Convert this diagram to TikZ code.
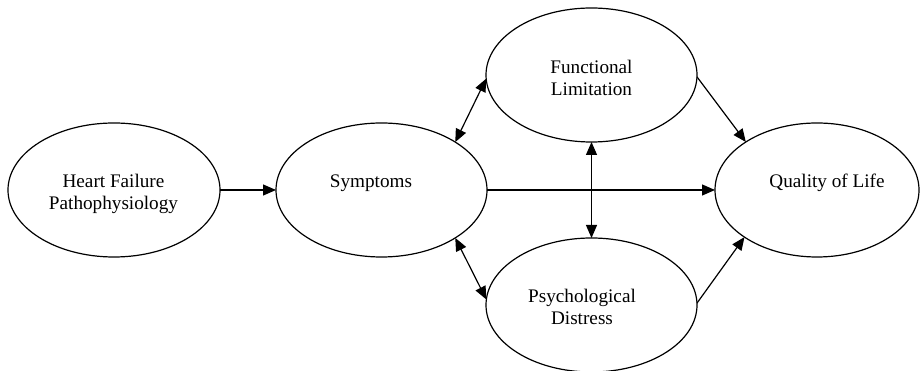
\documentclass[tikz,border=0pt]{standalone}
\usepackage{fontspec}
\setmainfont{Liberation Serif}
\usetikzlibrary{arrows.meta,shapes.geometric}
\begin{document}
\begin{tikzpicture}[x=1pt,y=1pt,
  oval/.style={draw=black, line width=1.2pt, ellipse, inner sep=0pt, outer sep=0pt},
  lbl/.style={inner sep=0pt, align=center, font=\fontsize{19.2}{22}\selectfont},
  tip/.style={Triangle[length=13pt,width=11pt]},
  conn/.style={line width=1.2pt, -{Triangle[length=13pt,width=11pt]}},
  dconn/.style={line width=1.2pt, {Triangle[length=13pt,width=11pt]}-{Triangle[length=13pt,width=11pt]}}]
\useasboundingbox (0,0) rectangle (920,371);
\node[oval, minimum width=212pt, minimum height=134pt] (hf) at (114,181) {};
\node[oval, minimum width=211pt, minimum height=134pt] (s) at (381.5,181) {};
\node[oval, minimum width=211pt, minimum height=134pt] (fl) at (591.5,296) {};
\node[oval, minimum width=211pt, minimum height=134pt] (pd) at (591.5,66) {};
\node[oval, minimum width=204pt, minimum height=134pt] (qol) at (817,181) {};
\node[lbl, anchor=north] (thf) at (113.5,197) {Heart Failure\\Pathophysiology};
\node[lbl, anchor=base] (ts) at (371,183) {Symptoms};
\node[lbl, anchor=north] (tfl) at (591.5,311) {Functional\\Limitation};
\node[lbl, anchor=north] (tpd) at (582,82) {Psychological\\Distress};
\node[lbl, anchor=base] (tqol) at (827,183) {Quality of Life};
\draw[conn] (hf.east) -- (s.west);
\draw[conn] (s.east) -- (qol.west);
\draw[dconn] (s.33.1) -- (fl.182.7);
\draw[dconn] (s.-33.1) -- (pd.177.3);
\draw[dconn] (fl.south) -- (pd.north);
\draw[conn] (fl.-1) -- (qol.146.3);
\draw[conn] (pd.1) -- (qol.213.7);
\end{tikzpicture}
\end{document}
